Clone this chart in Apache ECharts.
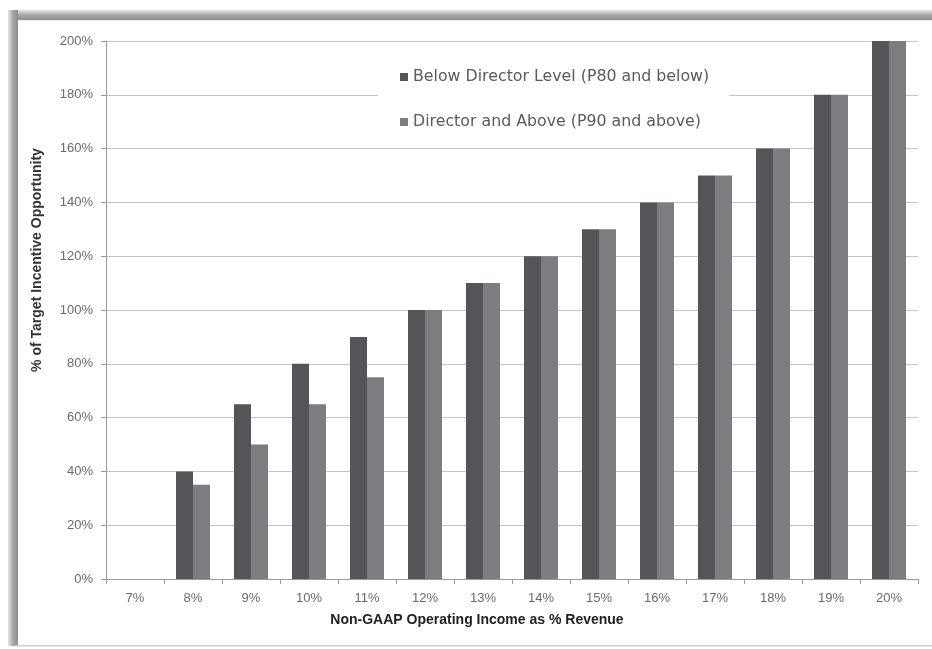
<!DOCTYPE html>
<html>
<head>
<meta charset="utf-8">
<style>
  html, body { margin: 0; padding: 0; background: #ffffff; }
  #chart { width: 932px; height: 649px; }
</style>
<script src="https://cdn.jsdelivr.net/npm/echarts@6/dist/echarts.min.js"></script>
</head>
<body>
<div id="chart"></div>
<script>
// Operating margin thresholds (x axis)
const categories = ['7%', '8%', '9%', '10%', '11%', '12%', '13%', '14%', '15%', '16%', '17%', '18%', '19%', '20%'];
// Payout as % of target, per employee group
const belowDirector = [0, 40, 65, 80, 90, 100, 110, 120, 130, 140, 150, 160, 180, 200];
const directorAbove = [0, 35, 50, 65, 75, 100, 110, 120, 130, 140, 150, 160, 180, 200];
const seriesNames = ['Below Director Level (P80 and below)', 'Director and Above (P90 and above)'];
const yTicks = [0, 20, 40, 60, 80, 100, 120, 140, 160, 180, 200];

const chart = echarts.init(document.getElementById('chart'), null, { renderer: 'canvas' });

const font = '"Liberation Sans", Arial, sans-serif';

chart.setOption({
  animation: false,
  backgroundColor: '#ffffff',
  grid: { left: 106, right: 14, top: 41, bottom: 70, containLabel: false },
  legend: {
    orient: 'vertical',
    left: 378,
    top: 57,
    padding: [12, 20, 12, 22],
    itemGap: 29,
    itemWidth: 8,
    itemHeight: 8,
    icon: 'rect',
    backgroundColor: '#ffffff',
    textStyle: { fontFamily: '"DejaVu Sans", sans-serif', fontSize: 15.8, color: '#5a5a5a', lineHeight: 16 },
    data: seriesNames
  },
  xAxis: {
    type: 'category',
    data: categories,
    axisLine: { lineStyle: { color: '#9a9a9a', width: 1 } },
    axisTick: { show: true, length: 5, lineStyle: { color: '#9a9a9a' } },
    axisLabel: { fontFamily: font, fontSize: 13, color: '#6a6a6a', margin: 13 },
    splitLine: { show: false }
  },
  yAxis: {
    type: 'value',
    min: yTicks[0],
    max: yTicks[yTicks.length - 1],
    interval: 20,
    axisLine: { show: true, lineStyle: { color: '#9a9a9a', width: 1 } },
    axisTick: { show: true, length: 5, lineStyle: { color: '#9a9a9a' } },
    axisLabel: { fontFamily: font, fontSize: 13, color: '#6a6a6a', margin: 13, formatter: '{value}%' },
    splitLine: { show: true, lineStyle: { color: '#c4c4c4', width: 1 } }
  },
  series: [
    {
      name: seriesNames[0],
      type: 'bar',
      data: belowDirector,
      barWidth: 17,
      barGap: '0%',
      itemStyle: { color: '#545558' }
    },
    {
      name: seriesNames[1],
      type: 'bar',
      data: directorAbove,
      barWidth: 17,
      barGap: '0%',
      itemStyle: { color: '#7c7d81' }
    }
  ],
  graphic: [
    // frame: shaded top and left bands, thin bottom rule
    {
      type: 'rect', silent: true,
      shape: { x: 8, y: 10, width: 924, height: 10 },
      style: {
        fill: new echarts.graphic.LinearGradient(0, 0, 0, 1, [
          { offset: 0, color: '#e4e4e4' },
          { offset: 0.5, color: '#a8a8a8' },
          { offset: 1, color: '#8c8c8c' }
        ])
      }
    },
    {
      type: 'rect', silent: true,
      shape: { x: 8, y: 10, width: 10, height: 636 },
      style: {
        fill: new echarts.graphic.LinearGradient(0, 0, 1, 0, [
          { offset: 0, color: '#e4e4e4' },
          { offset: 0.5, color: '#a8a8a8' },
          { offset: 1, color: '#8c8c8c' }
        ])
      }
    },
    {
      type: 'rect', silent: true,
      shape: { x: 18, y: 20, width: 914, height: 1 },
      style: { fill: '#f0f0f0' }
    },
    {
      type: 'rect', silent: true,
      shape: { x: 15, y: 645, width: 917, height: 1.5 },
      style: { fill: '#cfcfcf' }
    },
    // axis titles
    {
      type: 'text', silent: true,
      x: 37, y: 260, rotation: Math.PI / 2,
      style: {
        text: '% of Target Incentive Opportunity',
        fontFamily: font, fontSize: 14, fontWeight: 'bold', fill: '#333333',
        align: 'center', verticalAlign: 'middle'
      }
    },
    {
      type: 'text', silent: true,
      x: 477, y: 620,
      style: {
        text: 'Non-GAAP Operating Income as % Revenue',
        fontFamily: font, fontSize: 14, fontWeight: 'bold', fill: '#222222',
        align: 'center', verticalAlign: 'middle'
      }
    }
  ]
});
</script>
</body>
</html>
